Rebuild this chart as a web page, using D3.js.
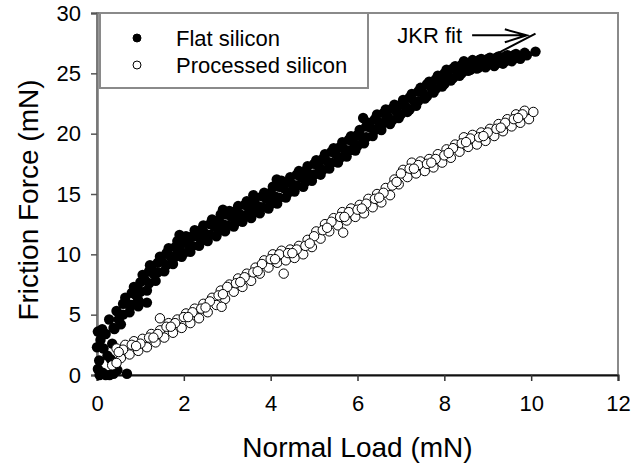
<!DOCTYPE html>
<html>
<head>
<meta charset="utf-8">
<script src="https://cdn.jsdelivr.net/npm/d3@7"></script>
<style>
  body { margin: 0; background: #fff; }
  text { font-family: "Liberation Sans", Arial, sans-serif; fill: #000; }
</style>
</head>
<body>
<svg id="chart"></svg>
<script>
// axis ticks
const xTicks = [0, 2, 4, 6, 8, 10, 12]
const yTicks = [0, 5, 10, 15, 20, 25, 30]

// Flat silicon (filled) [normal load, friction force]
const flatSilicon = [
  [0.02,0.5],[0.06,0.0],[0.13,0.2],[0.2,0.0],[0.29,0.0],[0.38,0.1],[0.47,0.4],[0.69,0.1],
  [0.0,2.3],[0.02,3.6],[0.05,1.2],[0.08,2.9],[0.12,3.8],[0.15,2.2],[0.2,3.4],[0.24,1.6],[0.28,4.6],[0.32,1.3],[0.35,2.6],[0.38,3.9],
  [0.45,5.3],[0.65,6.4],[0.85,7.3],[1.05,8.3],[1.25,9.0],[1.45,9.8],[1.65,10.5],[1.85,11.1],[2.05,11.5],[2.25,12.0],
  [2.45,12.4],[2.65,12.9],[2.85,13.3],[3.05,13.6],[3.25,14.0],[3.45,14.4],[3.65,14.7],[3.85,15.1],[4.05,15.6],[4.25,16.1],
  [4.45,16.4],[4.65,16.9],[4.85,17.3],[5.05,17.8],[5.25,18.3],[5.45,18.8],[5.65,19.3],[5.85,19.8],[6.05,20.3],[6.25,20.9],
  [6.45,21.6],[6.65,22.0],[6.85,22.4],[7.05,22.8],[7.25,23.3],[7.45,23.8],[7.65,24.3],[7.85,24.8],[8.05,25.3],[8.25,25.6],
  [8.45,26.0],[8.65,26.1],[8.85,26.2],[9.05,26.3],[9.25,26.4],[9.45,26.5],[9.65,26.6],[9.85,26.7],
  [0.6,5.9],[0.8,6.8],[1.0,7.7],[1.2,8.6],[1.4,9.3],[1.6,10.1],[1.8,10.6],[2.0,11.1],[2.2,11.5],[2.4,12.0],
  [2.6,12.5],[2.8,12.8],[3.0,13.3],[3.2,13.6],[3.4,14.1],[3.6,14.3],[3.8,14.8],[4.0,15.1],[4.2,15.6],[4.4,16.0],
  [4.6,16.6],[4.8,16.9],[5.0,17.5],[5.2,17.9],[5.4,18.5],[5.6,18.9],[5.8,19.5],[6.0,19.9],[6.2,20.6],[6.4,21.2],
  [6.6,21.7],[6.8,22.1],[7.0,22.4],[7.2,23.0],[7.4,23.5],[7.6,24.1],[7.8,24.5],[8.0,25.0],[8.2,25.4],[8.4,25.7],
  [8.6,25.9],[8.8,26.1],[9.0,26.2],[9.2,26.3],[9.4,26.4],[9.6,26.5],
  [0.5,4.6],[0.7,5.9],[0.9,6.6],[1.1,7.9],[1.3,8.4],[1.5,9.4],[1.7,9.8],[1.9,10.5],[2.1,10.8],[2.3,11.5],
  [2.5,11.7],[2.7,12.3],[2.9,12.5],[3.1,13.1],[3.3,13.3],[3.5,13.8],[3.7,14.0],[3.9,14.6],[4.1,14.8],[4.3,15.5],
  [4.5,15.8],[4.7,16.4],[4.9,16.6],[5.1,17.3],[5.3,17.7],[5.5,18.3],[5.7,18.7],[5.9,19.3],[6.1,19.7],[6.3,20.5],
  [6.5,20.9],[6.7,21.4],[6.9,21.8],[7.1,22.3],[7.3,22.7],[7.5,23.4],[7.7,23.8],[7.9,24.4],[8.1,24.7],[8.3,25.2],
  [8.5,25.5],[8.7,25.7],[8.9,25.8],[9.1,26.0],[9.3,26.1],[9.5,26.2],[9.7,26.4],[9.9,26.5],
  [0.4,3.8],[0.6,5.0],[0.8,5.8],[1.0,6.9],[1.2,7.6],[1.4,8.5],[1.6,9.1],[1.8,9.8],[2.0,10.1],[2.2,10.7],
  [2.4,11.1],[2.6,11.6],[2.8,11.9],[3.0,12.4],[3.2,12.7],[3.4,13.2],[3.6,13.4],[3.8,13.9],[4.0,14.2],[4.2,14.7],
  [4.4,15.1],[4.6,15.7],[4.8,16.0],[5.0,16.6],[5.2,17.0],[5.4,17.6],[5.6,18.0],[5.8,18.6],[6.0,19.0],[6.2,19.7],
  [6.4,20.3],[6.6,20.9],[6.8,21.1],[7.0,21.6],[7.2,22.0],[7.4,22.7],[7.6,23.1],[7.8,23.7],[8.0,24.1],[8.2,24.6],
  [8.4,25.0],[8.6,25.3],[8.8,25.5],[9.0,25.7],[9.2,25.8],[9.4,26.0],[9.6,26.2],
  [0.55,4.2],[0.75,5.2],[0.95,6.2],[1.15,7.0],[1.35,7.8],[1.55,8.6],[1.75,9.2],[1.95,9.8],[2.15,10.2],[2.35,10.7],
  [2.55,11.1],[2.75,11.5],[2.95,11.9],[3.15,12.3],[3.35,12.7],[3.55,13.0],[3.75,13.4],[3.95,13.8],[4.15,14.2],[4.35,14.7],
  [4.55,15.2],[4.75,15.6],[4.95,16.1],[5.15,16.6],[5.35,17.1],[5.55,17.6],[5.75,18.1],[5.95,18.6],[6.15,19.2],[6.35,19.8],
  [6.55,20.3],[6.75,20.8],[6.95,21.3],[7.15,21.8],[7.35,22.3],[7.55,22.9],[7.75,23.4],[7.95,23.9],[8.15,24.4],[8.35,24.8],
  [8.55,25.2],[8.75,25.4],[8.95,25.5],[9.15,25.6],[9.35,25.8],[9.55,26.0],[9.75,26.2],
  [0.95,5.7],[1.15,6.0],[1.22,9.1],[1.9,11.6],[2.9,13.7],[3.6,14.9],[4.14,16.2],[4.98,16.6],[6.13,21.3],[10.1,26.8]
]

// Processed silicon (open)
const processedSilicon = [
  [0.45,2.2],[0.65,2.5],[0.85,2.8],[1.05,3.0],[1.25,3.4],[1.45,3.7],[1.65,4.3],[1.85,4.6],[2.05,5.1],[2.25,5.5],
  [2.45,5.9],[2.65,6.4],[2.85,7.0],[3.05,7.5],[3.25,8.0],[3.45,8.4],[3.65,8.9],[3.85,9.5],[4.05,10.0],[4.25,10.3],
  [4.45,10.4],[4.65,10.7],[4.85,11.2],[5.05,11.9],[5.25,12.5],[5.45,13.0],[5.65,13.5],[5.85,13.8],[6.05,14.1],[6.25,14.6],
  [6.45,15.0],[6.65,15.5],[6.85,16.2],[7.05,17.0],[7.25,17.6],[7.45,17.7],[7.65,17.9],[7.85,18.3],[8.05,18.7],[8.25,19.1],
  [8.45,19.7],[8.65,19.9],[8.85,20.1],[9.05,20.4],[9.25,20.8],[9.45,21.2],[9.65,21.6],[9.85,21.9],
  [0.55,1.4],[0.75,1.7],[0.95,2.0],[1.15,2.3],[1.35,2.7],[1.55,3.1],[1.75,3.5],[1.95,3.9],[2.15,4.3],[2.35,4.7],
  [2.55,5.2],[2.75,5.8],[2.95,6.3],[3.15,6.9],[3.35,7.3],[3.55,7.8],[3.75,8.4],[3.95,8.9],[4.15,9.3],[4.35,9.5],
  [4.55,9.7],[4.75,10.0],[4.95,10.6],[5.15,11.3],[5.35,11.9],[5.55,12.4],[5.75,12.8],[5.95,13.1],[6.15,13.4],[6.35,13.9],
  [6.55,14.3],[6.75,14.9],[6.95,15.8],[7.15,16.4],[7.35,16.7],[7.55,16.9],[7.75,17.2],[7.95,17.6],[8.15,18.0],[8.35,18.5],
  [8.55,18.9],[8.75,19.1],[8.95,19.4],[9.15,19.8],[9.35,20.2],[9.55,20.6],[9.75,20.9],[9.95,21.2],
  [0.6,2.1],[0.8,2.5],[1.0,2.6],[1.2,3.1],[1.4,3.4],[1.6,4.0],[1.8,4.3],[2.0,4.8],[2.2,5.2],[2.4,5.5],
  [2.6,6.1],[2.8,6.6],[3.0,7.3],[3.2,7.6],[3.4,8.1],[3.6,8.5],[3.8,9.2],[4.0,9.6],[4.2,10.0],[4.4,10.1],
  [4.6,10.4],[4.8,10.7],[5.0,11.5],[5.2,12.0],[5.4,12.7],[5.6,13.1],[5.8,13.5],[6.0,13.7],[6.2,14.2],[6.4,14.6],
  [6.6,15.1],[6.8,15.7],[7.0,16.7],[7.2,17.1],[7.4,17.4],[7.6,17.5],[7.8,17.9],[8.0,18.2],[8.2,18.8],[8.4,19.2],
  [8.6,19.6],[8.8,19.7],[9.0,20.1],[9.2,20.4],[9.4,20.9],[9.6,21.2],[9.8,21.6],
  [0.5,1.9],[0.9,2.4],[1.3,3.1],[1.7,4.0],[2.1,4.8],[2.5,5.6],[2.9,6.7],[3.3,7.7],[3.7,8.6],[4.1,9.6],
  [4.5,10.1],[4.9,10.9],[5.3,12.2],[5.7,13.1],[6.1,13.8],[6.5,14.7],[6.9,16.0],[7.3,17.1],[7.7,17.6],[8.1,18.4],
  [8.5,19.3],[8.9,19.8],[9.3,20.5],[9.7,21.3],[10.05,21.8],
  [0.35,0.8],[0.45,1.0],[1.45,4.7],[2.87,5.65],[4.3,8.4],[5.67,11.8]
]

// JKR fit curve, visible only where it leaves the flat data
const jkrFit = [[8.0,24.4],[9.0,26.3],[9.3,26.8],[10.1,28.3]]

const legendLabels = ["Flat silicon", "Processed silicon"]

const width = 631, height = 468
const margin = { left: 97, right: 13, top: 13, bottom: 93 }

const svg = d3.select("#chart").attr("width", width).attr("height", height)

const x = d3.scaleLinear().domain([0, 12]).range([margin.left, width - margin.right])
const y = d3.scaleLinear().domain([0, 30]).range([height - margin.bottom, margin.top])

// frame: top and right in grey
svg.append("rect")
  .attr("x", x(0)).attr("y", y(30))
  .attr("width", x(12) - x(0)).attr("height", y(0) - y(30))
  .attr("fill", "none").attr("stroke", "#8a8a8a").attr("stroke-width", 2)

// y axis
const yAxis = svg.append("g")
  .attr("transform", `translate(${x(0)},0)`)
  .call(d3.axisLeft(y).tickValues(yTicks).tickSize(6).tickPadding(10))
yAxis.select(".domain").attr("stroke", "#777").attr("stroke-width", 2.5)
yAxis.selectAll(".tick line").attr("stroke", "#555").attr("stroke-width", 1.5)
yAxis.selectAll("text").attr("font-size", 22).attr("font-family", "Liberation Sans, Arial, sans-serif")

// x axis
const xAxis = svg.append("g")
  .attr("transform", `translate(0,${y(0)})`)
  .call(d3.axisBottom(x).tickValues(xTicks).tickSize(6).tickPadding(14))
xAxis.select(".domain").attr("stroke", "#111").attr("stroke-width", 2)
xAxis.selectAll(".tick line").attr("stroke", "#333").attr("stroke-width", 1.5)
xAxis.selectAll("text").attr("font-size", 22).attr("font-family", "Liberation Sans, Arial, sans-serif")

// axis titles
svg.append("text")
  .attr("x", (x(0) + x(12)) / 2).attr("y", 457)
  .attr("text-anchor", "middle").attr("font-size", 28)
  .text("Normal Load (mN)")
svg.append("text")
  .attr("transform", `translate(38,${(y(0) + y(30)) / 2 + 6}) rotate(-90)`)
  .attr("text-anchor", "middle").attr("font-size", 28)
  .text("Friction Force (mN)")

// data
svg.append("g").selectAll("circle").data(flatSilicon).enter().append("circle")
  .attr("cx", d => x(d[0])).attr("cy", d => y(d[1])).attr("r", 5.2)
  .attr("fill", "#000")
svg.append("g").selectAll("circle").data(processedSilicon).enter().append("circle")
  .attr("cx", d => x(d[0])).attr("cy", d => y(d[1])).attr("r", 4.7)
  .attr("fill", "#fff").attr("stroke", "#000").attr("stroke-width", 1)

const line = d3.line().x(d => x(d[0])).y(d => y(d[1]))
svg.append("path").datum(jkrFit)
  .attr("d", line).attr("fill", "none").attr("stroke", "#000").attr("stroke-width", 2)

// JKR annotation with open arrow head
svg.append("text")
  .attr("x", x(8.41)).attr("y", y(27.5))
  .attr("text-anchor", "end").attr("font-size", 22)
  .text("JKR fit")
const tip = [x(9.9), y(28.15)]
svg.append("path")
  .attr("d", `M${x(8.64)},${tip[1]}L${tip[0]},${tip[1]}M${tip[0] - 22},${tip[1] - 6}L${tip[0]},${tip[1]}L${tip[0] - 22},${tip[1] + 7}`)
  .attr("fill", "none").attr("stroke", "#000").attr("stroke-width", 2)

// legend
const lg = svg.append("g")
lg.append("rect")
  .attr("x", x(0) + 3).attr("y", y(30))
  .attr("width", 268).attr("height", 75)
  .attr("fill", "#fff").attr("stroke", "#8a8a8a").attr("stroke-width", 2)
legendLabels.forEach((label, i) => {
  const cy = 38 + i * 27
  lg.append("circle")
    .attr("cx", 137).attr("cy", cy).attr("r", 4)
    .attr("fill", i == 0 ? "#000" : "#fff").attr("stroke", "#000").attr("stroke-width", 1)
  lg.append("text")
    .attr("x", 176).attr("y", cy + 8)
    .attr("font-size", 22)
    .text(label)
})
</script>
</body>
</html>
